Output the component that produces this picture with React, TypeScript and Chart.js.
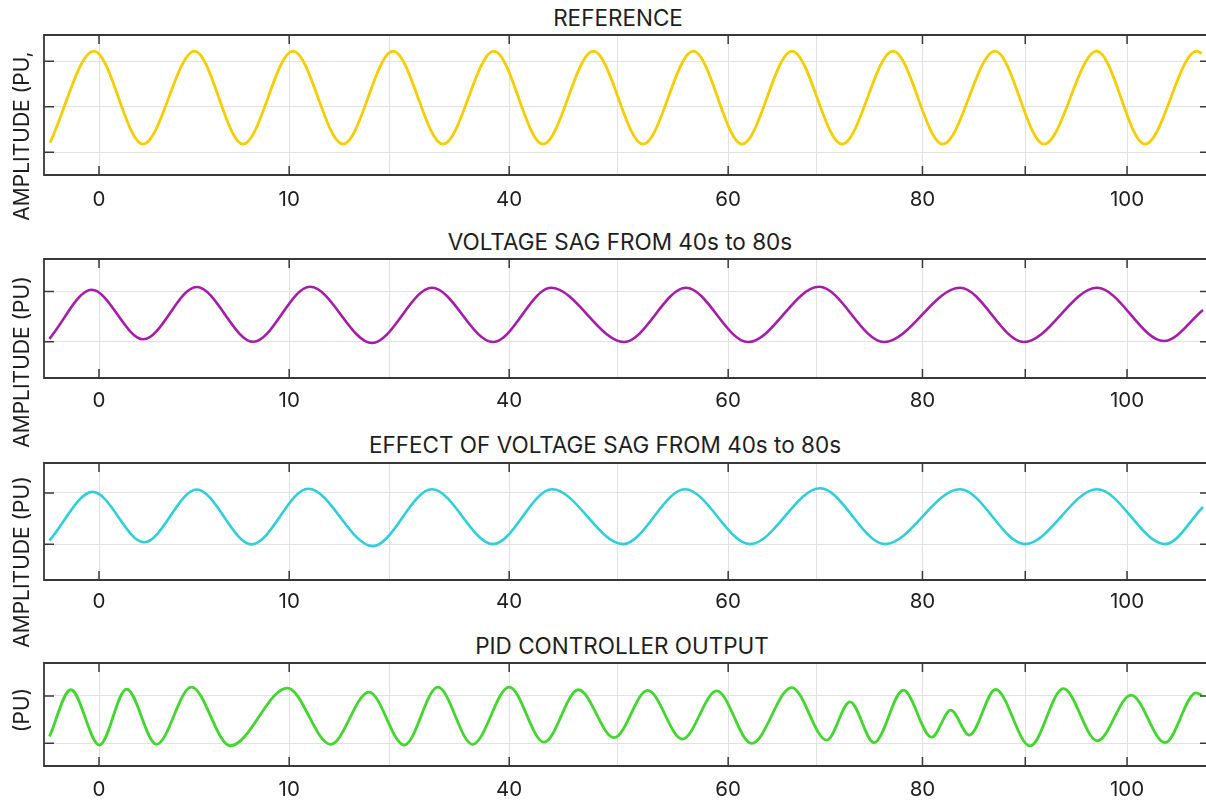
import React, { useEffect, useRef } from "react";
import { Chart, registerables } from "chart.js";

Chart.register(...registerables);

// ---------- data ----------
const X_MIN = -5.35;
const X_MAX = 107.68;
const GRID_TICKS = [0, 18.5, 28.3, 39.9, 50.4, 61.2, 69.8, 80.1, 90.1, 100];
const TICK_LABELS = ["0", "10", "", "40", "", "60", "", "80", "", "100"];
const MARK_TICKS = [0, 18.5, 39.9, 61.2, 80.1, 90.1, 100];

const TITLES = [
  "REFERENCE",
  "VOLTAGE SAG FROM 40s to 80s",
  "EFFECT OF VOLTAGE SAG FROM 40s to 80s",
  "PID CONTROLLER OUTPUT",
];
const Y_TITLES = ["AMPLITUDE (PU,", "AMPLITUDE (PU)", "AMPLITUDE (PU)", "(PU)"];

const REF_T = [-4.77, -0.49, 4.28, 9.29, 14.01, 18.87, 23.74, 28.6, 33.46, 38.42, 43.19, 48.08, 52.92, 57.81, 62.55, 67.41, 72.28, 77.24, 82.07, 87.16, 91.93, 97.05, 101.75, 106.78, 107.26];
const REF_Y = [-0.79, 1.22, -0.82, 1.22, -0.82, 1.22, -0.82, 1.22, -0.82, 1.22, -0.82, 1.22, -0.82, 1.22, -0.82, 1.22, -0.82, 1.22, -0.82, 1.22, -0.82, 1.22, -0.82, 1.22, 1.17];

const SAG_T = [-4.83, -0.71, 4.31, 9.5, 15.01, 20.53, 26.56, 32.39, 38.33, 43.97, 51.07, 57.1, 63.13, 70.04, 76.36, 83.75, 89.98, 97.08, 103.6, 107.39];
const SAG_Y = [-0.88, 1.07, -0.9, 1.18, -1.0, 1.19, -1.05, 1.15, -1.01, 1.15, -1.01, 1.15, -1.01, 1.19, -1.01, 1.15, -1.01, 1.15, -0.97, 0.27];

const EFF_T = [-4.83, -0.61, 4.38, 9.5, 14.85, 20.36, 26.62, 32.39, 38.33, 44.07, 50.97, 57.0, 63.33, 70.14, 76.46, 83.75, 90.08, 97.08, 103.7, 107.39];
const EFF_Y = [-0.86, 1.04, -0.92, 1.13, -1.0, 1.16, -1.07, 1.14, -0.99, 1.14, -0.99, 1.14, -0.99, 1.18, -0.99, 1.14, -0.99, 1.14, -0.99, 0.45];

const PID_T = [-4.82, -2.74, 0.04, 2.68, 5.59, 8.98, 12.76, 18.32, 22.53, 26.26, 29.7, 32.96, 36.34, 39.9, 43.29, 46.63, 50.11, 53.37, 56.75, 60.09, 63.49, 67.38, 70.79, 73.05, 75.39, 78.24, 81.0, 82.85, 84.66, 87.21, 90.56, 93.8, 97.11, 100.39, 103.7, 106.71, 107.27];
const PID_Y = [-0.71, 1.26, -1.07, 1.29, -1.04, 1.37, -1.1, 1.33, -1.04, 1.16, -1.07, 1.37, -1.04, 1.37, -0.95, 1.26, -0.76, 1.23, -0.82, 1.21, -1.0, 1.35, -0.86, 0.75, -0.97, 1.24, -0.74, 0.4, -0.65, 1.27, -1.11, 1.31, -0.89, 1.03, -0.97, 1.13, 1.03];

const Y_TICKS_1 = [-1, 0, 1];
const Y_TICKS_2 = [-1, 1];

// ---------- layout / style ----------
const FONT = "Inter, Roboto, 'DejaVu Sans', sans-serif";
const TEXT = "#1e1e1e";
const PAD_TOP = 4;
const X_AXIS_H = 44;
const PLOT_LEFT = 44;
const TICK_FONT = 20.5;
const TITLE_FONT = 22.5;
const YTITLE_FONT = 21;

const PANELS = [
  { t: REF_T, y: REF_Y, color: "#F6CD00", width: 2.8, top: 35, bottom: 175, yMin: -1.5, yMax: 1.576, yTicks: Y_TICKS_1, tickPad: 12.5, titleX: 618, titleY: 17.5, yTitleY: 136 },
  { t: SAG_T, y: SAG_Y, color: "#A51CA8", width: 2.6, top: 259, bottom: 378, yMin: -2.44, yMax: 2.296, yTicks: Y_TICKS_2, tickPad: 10.5, titleX: 620, titleY: 242, yTitleY: 362 },
  { t: EFF_T, y: EFF_Y, color: "#2ECFD9", width: 2.6, top: 463, bottom: 580, yMin: -2.387, yMax: 2.163, yTicks: Y_TICKS_2, tickPad: 10, titleX: 605, titleY: 445, yTitleY: 562 },
  { t: PID_T, y: PID_Y, color: "#43D62E", width: 2.8, top: 663, bottom: 766, yMin: -1.954, yMax: 2.387, yTicks: Y_TICKS_2, tickPad: 12, titleX: 622, titleY: 646, yTitleY: 710 },
];

const framePlugin = {
  id: "frameTicks",
  afterDraw(chart: any) {
    const { ctx, chartArea: a, scales } = chart;
    const xs = scales.x;
    const ys = scales.y;
    ctx.save();
    ctx.strokeStyle = "#383838";
    ctx.lineWidth = 1.8;
    ctx.beginPath();
    ctx.moveTo(a.right, a.top);
    ctx.lineTo(a.left, a.top);
    ctx.lineTo(a.left, a.bottom);
    ctx.lineTo(a.right, a.bottom);
    ctx.stroke();
    ctx.lineWidth = 1.5;
    ctx.beginPath();
    for (const v of MARK_TICKS) {
      const px = xs.getPixelForValue(v);
      ctx.moveTo(px, a.top);
      ctx.lineTo(px, a.top + 9);
      ctx.moveTo(px, a.bottom);
      ctx.lineTo(px, a.bottom - 9);
    }
    for (const tk of ys.ticks) {
      const py = ys.getPixelForValue(tk.value);
      ctx.moveTo(a.left, py);
      ctx.lineTo(a.left + 10, py);
      ctx.moveTo(a.right, py);
      ctx.lineTo(a.right - 6, py);
    }
    ctx.stroke();
    ctx.restore();
  },
};

function Panel({ p }: { p: any }) {
  const ref = useRef<HTMLCanvasElement | null>(null);
  const h = PAD_TOP + (p.bottom - p.top) + X_AXIS_H;
  useEffect(() => {
    if (!ref.current) return;
    const chart = new Chart(ref.current, {
      type: "line",
      data: {
        datasets: [
          {
            data: p.t.map((t: number, i: number) => ({ x: t, y: p.y[i] })),
            borderColor: p.color,
            borderWidth: p.width,
            pointRadius: 0,
            fill: false,
            cubicInterpolationMode: "monotone",
          },
        ],
      },
      options: {
        animation: false,
        responsive: false,
        maintainAspectRatio: false,
        layout: { padding: { top: PAD_TOP, left: 0, right: 0, bottom: 0 } },
        plugins: { legend: { display: false }, title: { display: false }, tooltip: { enabled: false } },
        scales: {
          x: {
            type: "linear",
            min: X_MIN,
            max: X_MAX,
            afterBuildTicks: (s: any) => {
              s.ticks = GRID_TICKS.map((v) => ({ value: v }));
            },
            afterFit: (s: any) => {
              s.height = X_AXIS_H;
            },
            ticks: {
              autoSkip: false,
              maxRotation: 0,
              padding: p.tickPad,
              color: TEXT,
              font: { family: FONT, size: TICK_FONT },
              callback: (_v: any, i: number) => TICK_LABELS[i],
            },
            grid: { color: "#e2e2e2", lineWidth: 1, drawTicks: false },
            border: { display: false },
          },
          y: {
            type: "linear",
            min: p.yMin,
            max: p.yMax,
            afterBuildTicks: (s: any) => {
              s.ticks = p.yTicks.map((v: number) => ({ value: v }));
            },
            afterFit: (s: any) => {
              s.width = PLOT_LEFT;
            },
            ticks: { display: false },
            grid: { color: "#e2e2e2", lineWidth: 1, drawTicks: false },
            border: { display: false },
          },
        },
      } as any,
      plugins: [framePlugin],
    });
    return () => chart.destroy();
  }, []);
  return (
    <canvas
      ref={ref}
      width={1206}
      height={h}
      style={{ position: "absolute", left: 0, top: p.top - PAD_TOP, width: 1206, height: h }}
    />
  );
}

export default function App() {
  return (
    <div style={{ position: "fixed", left: 0, top: 0, width: 1206, height: 801, background: "#fff", overflow: "hidden" }}>
      {PANELS.map((p, i) => (
        <Panel key={i} p={p} />
      ))}
      {PANELS.map((p, i) => (
        <div
          key={"t" + i}
          style={{
            position: "absolute",
            left: p.titleX,
            top: p.titleY,
            transform: "translate(-50%, -50%)",
            whiteSpace: "nowrap",
            fontFamily: FONT,
            fontSize: TITLE_FONT,
            color: TEXT,
            lineHeight: 1,
          }}
        >
          {TITLES[i]}
        </div>
      ))}
      {PANELS.map((p, i) => (
        <div
          key={"y" + i}
          style={{
            position: "absolute",
            left: 20.5,
            top: p.yTitleY,
            transform: "translate(-50%, -50%) rotate(-90deg)",
            whiteSpace: "nowrap",
            fontFamily: FONT,
            fontSize: YTITLE_FONT,
            color: TEXT,
            lineHeight: 1,
          }}
        >
          {Y_TITLES[i]}
        </div>
      ))}
    </div>
  );
}
